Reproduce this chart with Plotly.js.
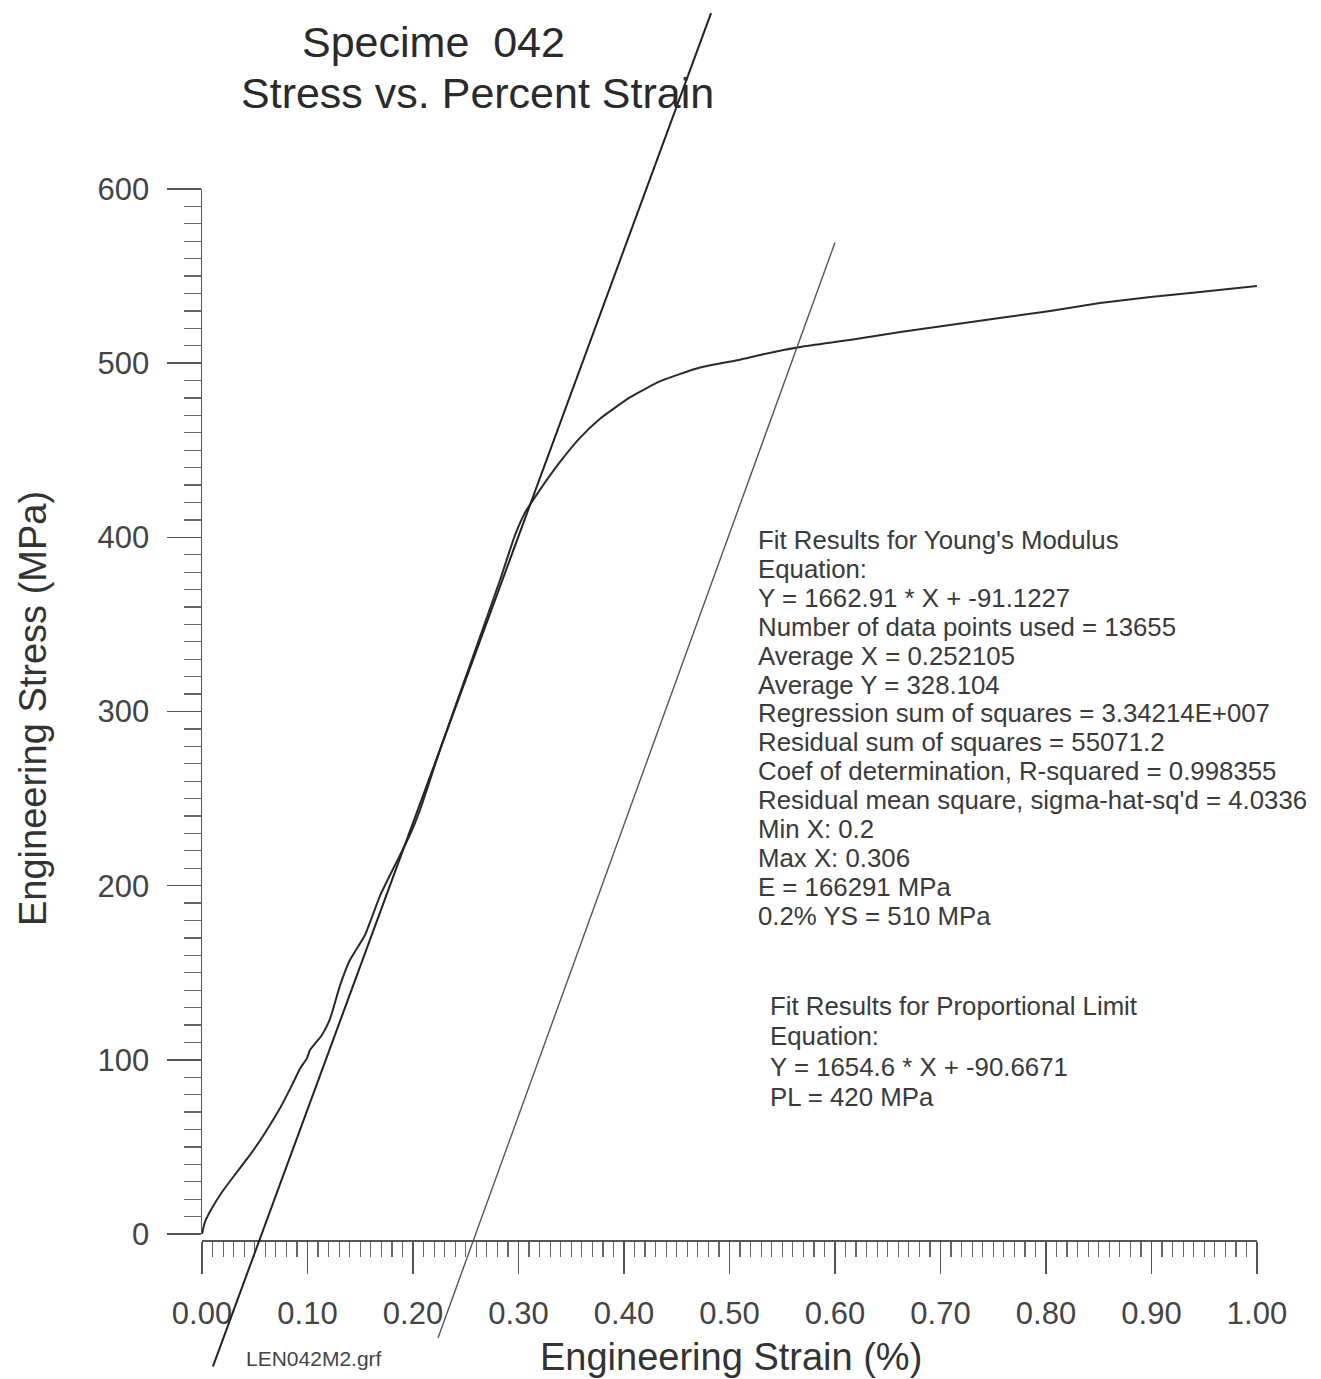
<!DOCTYPE html>
<html><head><meta charset="utf-8">
<script src="https://cdn.plot.ly/plotly-3.0.1.min.js"></script>
<style>html,body{margin:0;padding:0;background:#fff}</style>
</head><body><div id="chart" style="width:1321px;height:1379px"></div>
<script>
// ---- data ----
const strain = [0, 0.0028, 0.0095, 0.019, 0.031, 0.0455, 0.0597, 0.074, 0.0853, 0.093, 0.0995, 0.1024, 0.1137, 0.121, 0.131, 0.140, 0.1545, 0.169, 0.183, 0.197, 0.2066, 0.2256, 0.254, 0.2825, 0.2967, 0.306, 0.320, 0.339, 0.358, 0.377, 0.406, 0.434, 0.472, 0.510, 0.529, 0.567, 0.614, 0.662, 0.709, 0.756, 0.804, 0.851, 0.899, 0.946, 1.0];
const stress = [0, 6.9, 14.9, 24.1, 33.9, 45.4, 58, 72.3, 85.5, 95, 101, 105.6, 114.3, 122.9, 143, 157, 171.7, 194.6, 211.9, 229, 243.4, 278, 326.7, 375.5, 401.3, 414, 427, 443, 457, 468, 480.5, 489.5, 497.5, 502, 504.7, 509.3, 513.3, 517.9, 521.9, 525.9, 530, 534.5, 538, 540.9, 544.3];
const youngLineX = [0.0104, 0.4825];
const youngLineY = [-76, 701];
const offsetLineX = [0.2237, 0.600];
const offsetLineY = [-59.7, 569.3];
const xTickVals = [0, 0.1, 0.2, 0.3, 0.4, 0.5, 0.6, 0.7, 0.8, 0.9, 1.0];
const xTickText = ["0.00", "0.10", "0.20", "0.30", "0.40", "0.50", "0.60", "0.70", "0.80", "0.90", "1.00"];
const yTickVals = [0, 100, 200, 300, 400, 500, 600];
const yTickText = ["0", "100", "200", "300", "400", "500", "600"];
const titleLine1 = "Specime  042";
const titleLine2 = "Stress vs. Percent Strain";
const xTitle = "Engineering Strain (%)";
const yTitle = "Engineering Stress (MPa)";
const fileLabel = "LEN042M2.grf";
const youngText = [
  "Fit Results for Young's Modulus",
  "Equation:",
  "Y = 1662.91 * X + -91.1227",
  "Number of data points used = 13655",
  "Average X = 0.252105",
  "Average Y = 328.104",
  "Regression sum of squares = 3.34214E+007",
  "Residual sum of squares = 55071.2",
  "Coef of determination, R-squared = 0.998355",
  "Residual mean square, sigma-hat-sq'd = 4.0336",
  "Min X: 0.2",
  "Max X: 0.306",
  "E = 166291 MPa",
  "0.2% YS = 510 MPa"
];
const plText = [
  "Fit Results for Proportional Limit",
  "Equation:",
  "Y = 1654.6 * X + -90.6671",
  "PL = 420 MPa"
];

// ---- layout geometry ----
const W = 1321, H = 1379;
const PL = 202, PR = 1257, PT = 189, PB = 1234, XAXIS_Y = 1240;
const sx = (PR - PL) / 1.0, sy = (PB - PT) / 600;
const FONT = "Liberation Sans, Arial, sans-serif";
const fx = px => px / W, fy = py => 1 - py / H;

const traces = [
  {x: strain, y: stress, xaxis: 'x', yaxis: 'y', mode: 'lines', line: {color: '#2a2a2a', width: 2, shape: 'spline', smoothing: 0.5}, hoverinfo: 'skip'},
  {x: youngLineX, y: youngLineY, xaxis: 'x2', yaxis: 'y2', mode: 'lines', line: {color: '#222', width: 2}, hoverinfo: 'skip'},
  {x: offsetLineX, y: offsetLineY, xaxis: 'x2', yaxis: 'y2', mode: 'lines', line: {color: '#555', width: 1.4}, hoverinfo: 'skip'}
];

const annotations = [];
function addText(text, px, py, size, anchor, color) {
  annotations.push({text: text, xref: 'paper', yref: 'paper', x: fx(px), y: fy(py),
    xanchor: anchor, yanchor: 'middle', showarrow: false,
    font: {family: FONT, size: size, color: color || '#333'}});
}
addText(titleLine1, 434, 42, 43, 'center', '#2a2a2a');
addText(titleLine2, 477, 93, 43, 'center', '#2a2a2a');
addText(xTitle, 731, 1357, 38, 'center', '#333');
addText(fileLabel, 314, 1358, 21, 'center', '#444');
youngText.forEach((t, i) => addText(t, 756, 540 + i * 28.9, 25.8, 'left', '#3a3a3a'));
plText.forEach((t, i) => addText(t, 768, 1006 + i * 30.3, 25.8, 'left', '#3a3a3a'));
annotations.push({text: yTitle, xref: 'paper', yref: 'paper', x: fx(33), y: fy(709), textangle: -90,
  xanchor: 'center', yanchor: 'middle', showarrow: false, font: {family: FONT, size: 38, color: '#333'}});

const layout = {
  width: W, height: H,
  margin: {l: 0, r: 0, t: 0, b: 0},
  paper_bgcolor: '#fff', plot_bgcolor: 'rgba(0,0,0,0)',
  showlegend: false,
  xaxis: {
    domain: [fx(PL), fx(PR)], range: [0, 1], anchor: 'free', position: fy(XAXIS_Y),
    showgrid: false, zeroline: false, showline: true, linecolor: '#555', linewidth: 1.5,
    tickmode: 'array', tickvals: xTickVals, ticktext: xTickText,
    ticks: 'outside', ticklen: 32, tickwidth: 1.5, tickcolor: '#555',
    minor: {dtick: 0.01, ticks: 'outside', ticklen: 15, tickwidth: 1.2, tickcolor: '#666', showgrid: false},
    ticklabelstandoff: 13,
    tickfont: {family: FONT, size: 31, color: '#444'}, fixedrange: true
  },
  yaxis: {
    domain: [fy(PB), fy(PT)], range: [0, 600], anchor: 'x',
    showgrid: false, zeroline: false, showline: true, linecolor: '#555', linewidth: 1.5,
    tickmode: 'array', tickvals: yTickVals, ticktext: yTickText,
    ticks: 'outside', ticklen: 34, tickwidth: 1.5, tickcolor: '#555',
    minor: {dtick: 10, ticks: 'outside', ticklen: 17, tickwidth: 1.2, tickcolor: '#666', showgrid: false},
    ticklabelstandoff: 11,
    tickfont: {family: FONT, size: 31, color: '#444'}, fixedrange: true
  },
  xaxis2: {domain: [0, 1], range: [-PL / sx, (W - PL) / sx], anchor: 'y2', visible: false, fixedrange: true},
  yaxis2: {domain: [0, 1], range: [-(H - PB) / sy, PB / sy], anchor: 'x2', visible: false, fixedrange: true},
  annotations: annotations
};

Plotly.newPlot('chart', traces, layout, {staticPlot: true, displayModeBar: false});
</script>
</body></html>
